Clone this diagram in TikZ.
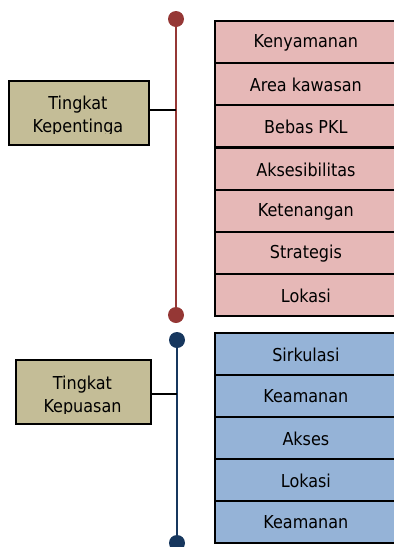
\documentclass[tikz,border=0pt]{standalone}
\usepackage{fontspec}
\setmainfont{DejaVu Sans Condensed}
\definecolor{pinkc}{HTML}{E6B8B7}
\definecolor{bluec}{HTML}{95B3D7}
\definecolor{khakic}{HTML}{C4BD97}
\definecolor{redl}{HTML}{953735}
\definecolor{navyl}{HTML}{17375E}
\tikzset{
  rowbox/.style={draw=black, line width=1.8pt, minimum width=181pt, minimum height=42pt,
    anchor=north west, inner sep=0pt},
  pinkrow/.style={rowbox, fill=pinkc},
  bluerow/.style={rowbox, fill=bluec},
  rowtext/.style={font=\fontsize{17.8}{20}\selectfont, inner sep=0pt},
  catbox/.style={draw=black, line width=1.8pt, fill=khakic, anchor=north west, inner sep=0pt},
  cattext/.style={align=center, font=\fontsize{17.8}{23}\selectfont, anchor=north, inner sep=0pt},
  dotc/.style={circle, inner sep=0pt, minimum size=16pt},
}
\begin{document}
\begin{tikzpicture}[x=1pt,y=-1pt]
\useasboundingbox (0,0) rectangle (394,547);
% red axis
\node[dotc, fill=redl] (rt) at (176,19) {};
\node[dotc, fill=redl] (rb) at (176,315) {};
\draw[redl, line width=2.4pt] (rt.center) -- (rb.center);
% blue axis
\node[dotc, fill=navyl] (bt) at (177,340) {};
\node[dotc, fill=navyl] (bb) at (177,543) {};
\draw[navyl, line width=2.4pt] (bt.center) -- (bb.center);
% pink rows
\node[pinkrow] (p1) at (214,20) {};
\node[pinkrow] (p2) at (214,62) {};
\node[pinkrow] (p3) at (214,104) {};
\node[pinkrow] (p4) at (214,147) {};
\node[pinkrow] (p5) at (214,189) {};
\node[pinkrow] (p6) at (214,231) {};
\node[pinkrow] (p7) at (214,273) {};
\foreach \n/\t in {p1/Kenyamanan, p2/Area kawasan, p3/Bebas PKL, p4/Aksesibilitas, p5/Ketenangan, p6/Strategis, p7/Lokasi}
  \node[rowtext] (\n t) at ([xshift=0.5pt,yshift=-0.5pt]\n.center) {\t};
% blue rows
\node[bluerow] (b1) at (214,332) {};
\node[bluerow] (b2) at (214,374) {};
\node[bluerow] (b3) at (214,416) {};
\node[bluerow] (b4) at (214,458) {};
\node[bluerow] (b5) at (214,500) {};
\foreach \n/\t in {b1/Sirkulasi, b2/Keamanan, b3/Akses, b4/Lokasi, b5/Keamanan}
  \node[rowtext] (\n t) at ([xshift=0.5pt,yshift=-0.5pt]\n.center) {\t};
% category boxes
\node[catbox, minimum width=140pt, minimum height=64pt] (c1) at (8,80) {};
\node[catbox, minimum width=135pt, minimum height=64pt] (c2) at (15,359) {};
\begin{scope}
  \clip (8,80) rectangle (148,133);
  \node[cattext] (c1t) at (78,96) {Tingkat\\Kepentinga};
\end{scope}
\begin{scope}
  \clip (15,359) rectangle (150,413.5);
  \node[cattext] (c2t) at (82.5,376) {Tingkat\\Kepuasan};
\end{scope}
% connectors
\coordinate (j1) at (rt.center |- 0,110);
\coordinate (j2) at (bt.center |- 0,394);
\draw[black, line width=1.8pt] (c1.east |- j1) -- (j1);
\draw[black, line width=1.8pt] (c2.east |- j2) -- (j2);
\end{tikzpicture}
\end{document}
